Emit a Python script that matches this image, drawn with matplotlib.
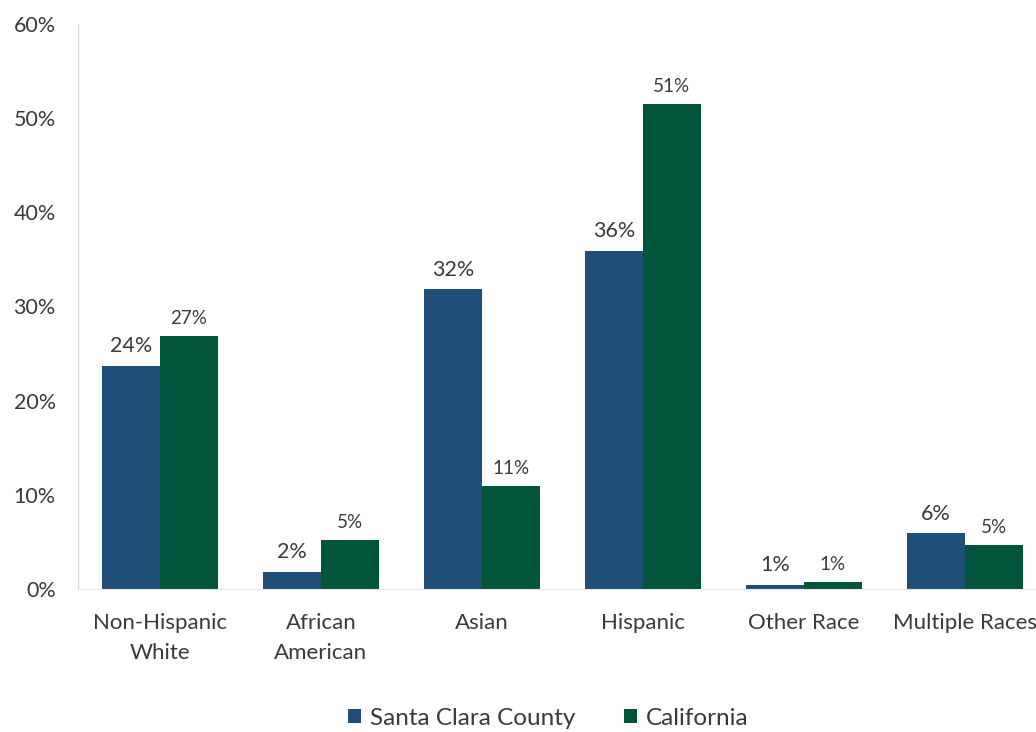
import numpy as np
import matplotlib.pyplot as plt
from matplotlib.ticker import PercentFormatter

plt.rcParams['font.family'] = ['Lato', 'DejaVu Sans']

categories = ["Non-Hispanic\nWhite", "African\nAmerican", "Asian", "Hispanic",
              "Other Race", "Multiple Races"]
santa_clara = [23.7, 1.8, 31.8, 35.9, 0.4, 5.9]
california = [26.9, 5.2, 10.9, 51.5, 0.7, 4.7]
sc_labels = ["24%", "2%", "32%", "36%", "1%", "6%"]
ca_labels = ["27%", "5%", "11%", "51%", "1%", "5%"]

blue = "#1f4e79"
green = "#00553a"
text_col = "#3a3a3a"

fig = plt.figure(figsize=(10.36, 7.32), dpi=100)
# axes runs a bit past the right edge, like the cropped original
ax = fig.add_axes([0.0753, 0.1954, 0.935, 0.772])

x = np.arange(len(categories))
w = 0.36
b1 = ax.bar(x - w / 2, santa_clara, w, color=blue, label="Santa Clara County")
b2 = ax.bar(x + w / 2, california, w, color=green, label="California")

for rect, lab in zip(b1, sc_labels):
    ax.annotate(lab, (rect.get_x() + rect.get_width() / 2, rect.get_height()),
                xytext=(0, 7), textcoords="offset points", ha="center", va="bottom",
                fontsize=15.5, color=text_col)
for rect, lab in zip(b2, ca_labels):
    ax.annotate(lab, (rect.get_x() + rect.get_width() / 2, rect.get_height()),
                xytext=(0, 6.5), textcoords="offset points", ha="center", va="bottom",
                fontsize=13.5, color=text_col)

ax.set_xlim(-0.51, 5.51)
ax.set_ylim(0, 60)
ax.set_yticks(np.arange(0, 61, 10))
ax.yaxis.set_major_formatter(PercentFormatter(decimals=0))
ax.set_xticks(x)
ax.set_xticklabels(categories, fontsize=16, color=text_col, linespacing=1.65)
ax.tick_params(axis="y", length=0, pad=16, labelsize=15.5, labelcolor=text_col)
ax.tick_params(axis="x", length=0, pad=17)

for s in ["top", "right"]:
    ax.spines[s].set_visible(False)
ax.spines["left"].set_color("#d9d9d9")
ax.spines["bottom"].set_color("#e6e6e6")

fig.legend(handles=[b1, b2], loc="center", bbox_to_anchor=(0.529, 0.019),
           ncol=2, frameon=False, fontsize=17.5, handlelength=0.55, handleheight=0.55,
           handletextpad=0.35, columnspacing=2.0, labelcolor=text_col)

fig.savefig("out.png", dpi=100)
